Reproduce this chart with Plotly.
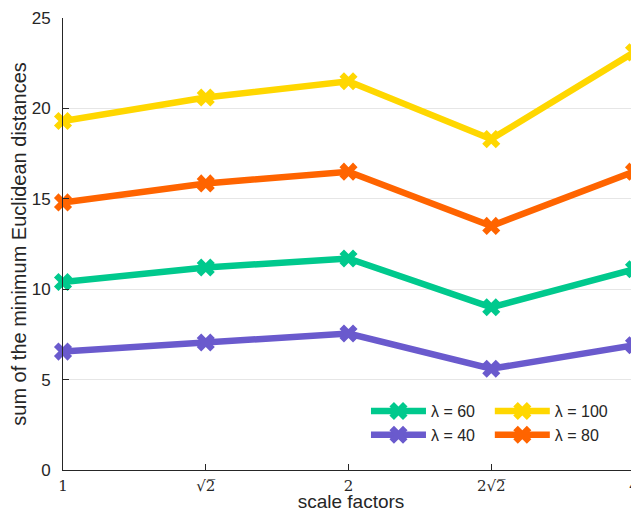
import plotly.graph_objects as go

x_pos = [0, 1, 2, 3, 4]
tick_labels = ["1", "√2\u0305", "2", "2√2\u0305", "4"]

lam60 = [10.4, 11.2, 11.7, 9.0, 11.1]
lam100 = [19.3, 20.6, 21.5, 18.3, 23.1]
lam40 = [6.55, 7.05, 7.55, 5.6, 6.9]
lam80 = [14.8, 15.85, 16.5, 13.5, 16.5]

series = [
    ("λ = 60", lam60, "#00C98D", "legend"),
    ("λ = 40", lam40, "#6A5ACD", "legend"),
    ("λ = 100", lam100, "#FFD700", "legend2"),
    ("λ = 80", lam80, "#FF6400", "legend2"),
]

fig = go.Figure()
for name, vals, col, lg in series:
    fig.add_trace(go.Scatter(
        x=x_pos, y=vals, name=name, mode="lines+markers",
        line=dict(color=col, width=6.5),
        marker=dict(symbol="x", size=16, color=col, line=dict(width=0)),
        cliponaxis=False, legend=lg,
    ))

leg_common = dict(
    orientation="v", yanchor="top", xanchor="left",
    bgcolor="rgba(255,255,255,0)", itemwidth=55,
    font=dict(size=16, color="#262626"), tracegroupgap=0,
)
fig.update_layout(
    width=631, height=504,
    margin=dict(l=55, r=0, t=10, b=42),
    paper_bgcolor="white", plot_bgcolor="white",
    font=dict(family="Arial, Liberation Sans, sans-serif", size=17, color="#262626"),
    legend=dict(x=0.526, y=0.168, **leg_common),
    legend2=dict(x=0.741, y=0.168, **leg_common),
    showlegend=True,
)
fig.update_xaxes(
    range=[0, 4.035], tickvals=x_pos, ticktext=tick_labels,
    tickfont=dict(family="DejaVu Serif, Liberation Serif, serif", size=15, color="#262626"),
    ticks="inside", ticklen=6, tickcolor="#262626", ticklabelstandoff=2,
    showline=True, linecolor="#262626", linewidth=1, showgrid=False, zeroline=False,
    title=dict(text="scale factors", standoff=1, font=dict(size=19)),
)
fig.update_yaxes(
    range=[0, 25], tickvals=[0, 5, 10, 15, 20, 25],
    ticks="inside", ticklen=6, tickcolor="#262626", ticklabelstandoff=8,
    showline=True, linecolor="#262626", linewidth=1,
    showgrid=True, gridcolor="#E6E6E6", zeroline=False,
    title=dict(text="sum of the minimum Euclidean distances", standoff=4, font=dict(size=20)),
)

fig.write_html("out.html")
